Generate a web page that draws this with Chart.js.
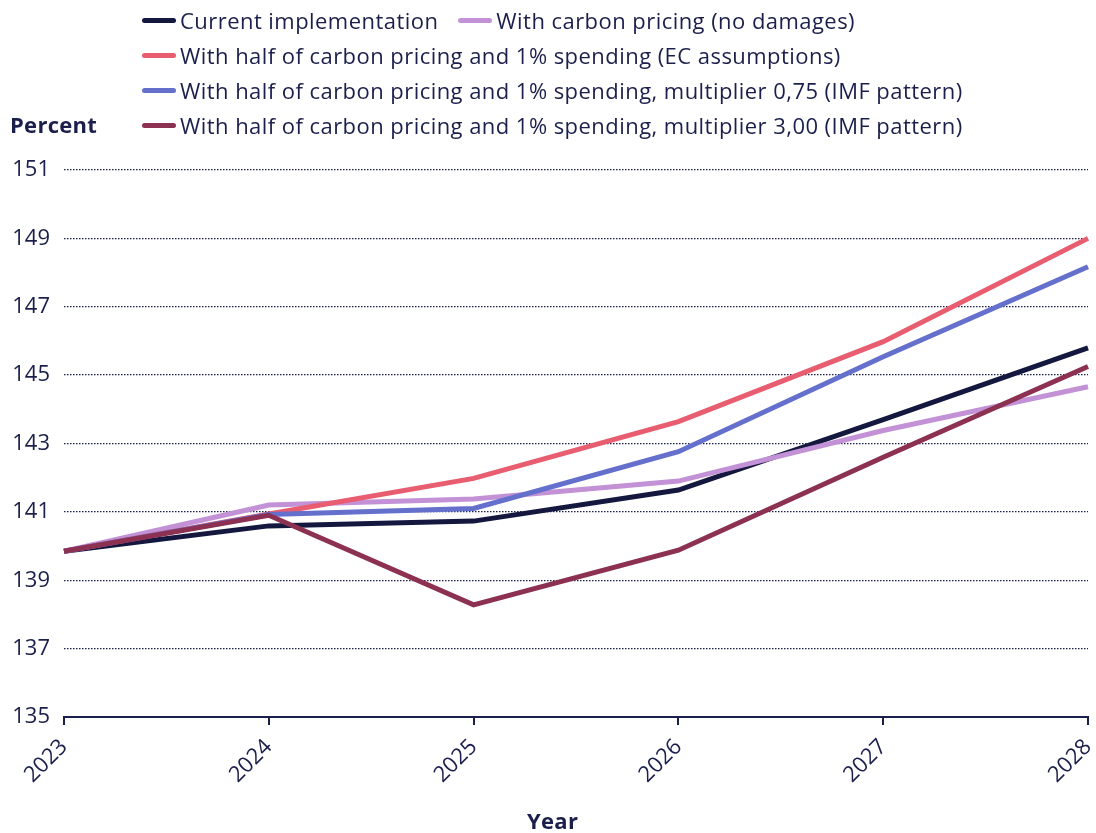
<!DOCTYPE html>
<html>
<head>
<meta charset="utf-8">
<script src="https://cdn.jsdelivr.net/npm/chart.js@4/dist/chart.umd.min.js"></script>
<style>
  html, body { margin: 0; padding: 0; background: #fff; }
  #wrap { position: relative; width: 1096px; height: 833px; font-family: "Open Sans", "Noto Sans", sans-serif; color: #1b1f4b; }
  canvas { position: absolute; left: 0; top: 0; }
  .lrow { position: absolute; left: 142px; display: flex; align-items: center; font-size: 22px; letter-spacing: 0.45px; line-height: 26px; white-space: nowrap; }
  .litem { display: flex; align-items: center; margin-right: 20px; }
  .lmark { display: inline-block; width: 34px; height: 5px; border-radius: 3px; margin-right: 4px; }
  .ttl { position: absolute; font-weight: bold; font-size: 22px; letter-spacing: 0.3px; line-height: 26px; white-space: nowrap; }
</style>
</head>
<body>
<div id="wrap">
  <canvas id="c" width="1096" height="833"></canvas>
  <div id="legend"></div>
  <div class="ttl" style="left:10px; top:111px;">Percent</div>
  <div class="ttl" style="left:527px; top:807px;">Year</div>
</div>
<script>
const years = ['2023', '2024', '2025', '2026', '2027', '2028'];
const seriesNames = [
  'Current implementation',
  'With carbon pricing (no damages)',
  'With half of carbon pricing and 1% spending (EC assumptions)',
  'With half of carbon pricing and 1% spending, multiplier 0,75 (IMF pattern)',
  'With half of carbon pricing and 1% spending, multiplier 3,00 (IMF pattern)'
];
const currentImpl     = [139.85, 140.59, 140.73, 141.64, 143.70, 145.80];
const carbonNoDamages = [139.85, 141.20, 141.38, 141.90, 143.38, 144.66];
const halfEC          = [139.85, 140.94, 141.98, 143.64, 145.98, 149.00];
const mult075         = [139.85, 140.92, 141.10, 142.76, 145.54, 148.17];
const mult300         = [139.85, 140.90, 138.28, 139.88, 142.60, 145.25];
const yMin = 135, yMax = 151, yStep = 2;

const colors = ['#14183f', '#c392d6', '#e85d6f', '#6470cc', '#8c3152'];
const values = [currentImpl, carbonNoDamages, halfEC, mult075, mult300];
const textColor = '#1b1f4b';
const fontFam = '"Open Sans", "Noto Sans", sans-serif';

const legendRows = [[0, 1], [2], [3], [4]];
const legendEl = document.getElementById('legend');
legendRows.forEach((row, r) => {
  const rowEl = document.createElement('div');
  rowEl.className = 'lrow';
  rowEl.style.top = (7 + r * 35) + 'px';
  row.forEach(i => {
    const it = document.createElement('div');
    it.className = 'litem';
    const m = document.createElement('span');
    m.className = 'lmark';
    m.style.background = colors[i];
    const t = document.createElement('span');
    t.textContent = seriesNames[i];
    it.appendChild(m); it.appendChild(t);
    rowEl.appendChild(it);
  });
  legendEl.appendChild(rowEl);
});

const datasets = values.map((v, i) => ({
  label: seriesNames[i],
  data: v,
  borderColor: colors[i],
  backgroundColor: colors[i],
  borderWidth: 5,
  pointRadius: 0,
  tension: 0,
  fill: false,
  order: 5 - i
}));

new Chart(document.getElementById('c'), {
  type: 'line',
  data: { labels: years, datasets },
  options: {
    responsive: false,
    animation: false,
    devicePixelRatio: 1,
    layout: { padding: { top: 170, right: 8, bottom: 0, left: 0 } },
    plugins: { legend: { display: false }, tooltip: { enabled: false } },
    scales: {
      x: {
        offset: false,
        afterFit: s => { s.height = 116; s.paddingRight = 0; s.paddingLeft = 0; },
        grid: { drawOnChartArea: false, drawTicks: true, tickLength: 8, color: textColor, lineWidth: 2 },
        border: { display: true, color: textColor, width: 2 },
        ticks: {
          color: textColor, font: { family: fontFam, size: 22 },
          minRotation: 45, maxRotation: 45, padding: 9, autoSkip: false
        }
      },
      y: {
        min: yMin, max: yMax,
        afterFit: s => { s.width = 64; s.paddingTop = 0; s.paddingBottom = 0; },
        grid: { drawTicks: false, color: textColor, lineWidth: 1.3 },
        border: { display: false, dash: [1.5, 1.5] },
        ticks: {
          stepSize: yStep, padding: 14, color: textColor,
          font: { family: fontFam, size: 22 }
        }
      }
    }
  }
});
</script>
</body>
</html>
